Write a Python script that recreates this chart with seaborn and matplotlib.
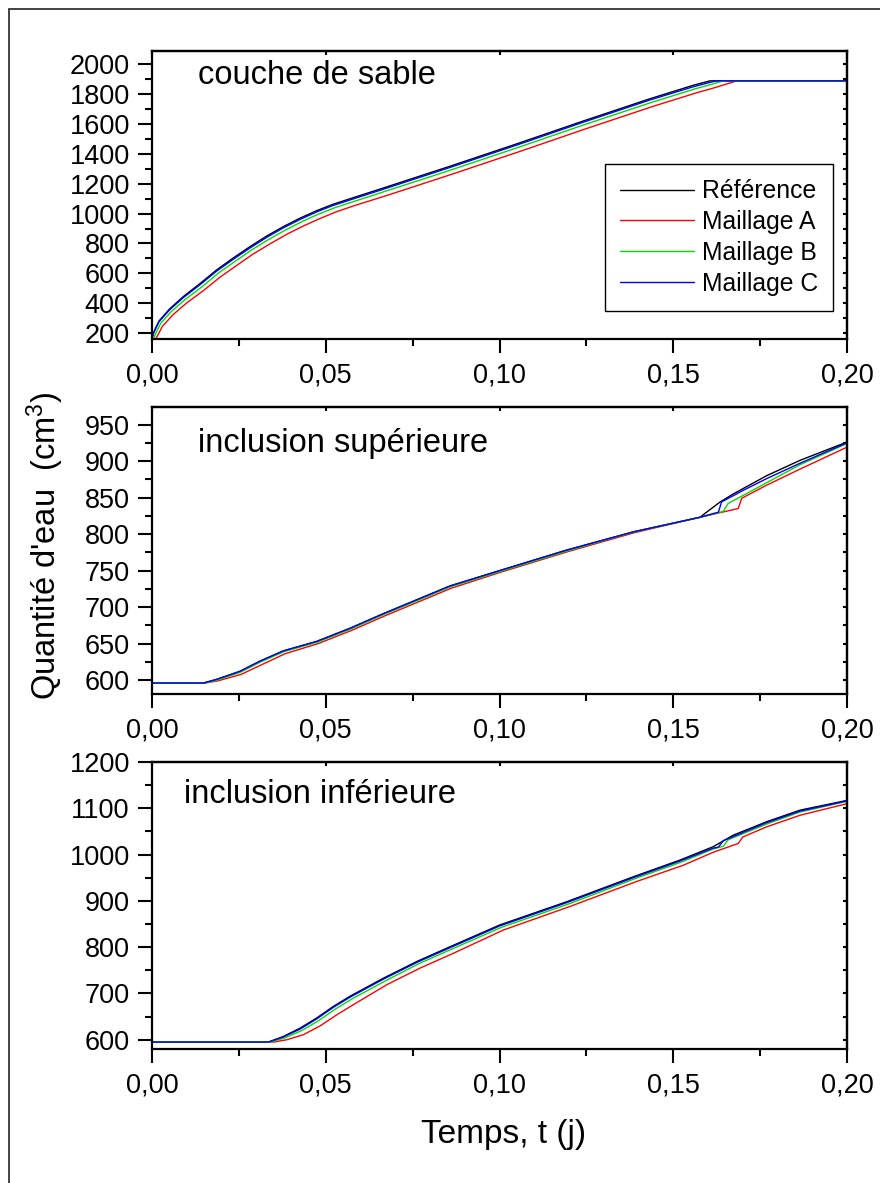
import numpy as np
import pandas as pd
import matplotlib
matplotlib.use("Agg")
import matplotlib.pyplot as plt
import seaborn as sns
from matplotlib.lines import Line2D
from matplotlib.patches import Rectangle
from matplotlib.ticker import MultipleLocator, FuncFormatter

# ---------------------------------------------------------------- data
series_names = ["Référence", "Maillage A", "Maillage B", "Maillage C"]
series_colors = ["#000000", "#ff0000", "#00dd00", "#0000ff"]
panel_titles = ["couche de sable", "inclusion supérieure", "inclusion inférieure"]
x_label = "Temps, t (j)"
y_label = "Quantité d'eau  (cm$^{\\rm 3}$)"

# couche de sable
t_sable_ref = [0.0, 0.0005, 0.002, 0.005, 0.009, 0.014, 0.0186, 0.0235, 0.0282, 0.033, 0.0378, 0.0426,
               0.0474, 0.052, 0.057, 0.0666, 0.0762, 0.0858, 0.105, 0.124, 0.1433, 0.156, 0.1606, 0.200]
v_sable_ref = [165, 205, 280, 360, 444, 535, 623, 705, 779, 850, 913, 970,
               1020, 1062, 1100, 1172, 1245, 1318, 1468, 1620, 1770, 1862, 1890, 1890]
t_sable_a = [0.001, 0.0015, 0.003, 0.006, 0.010, 0.015, 0.0195, 0.0245, 0.029, 0.034, 0.0388, 0.0436,
             0.0484, 0.053, 0.058, 0.0676, 0.0772, 0.0868, 0.106, 0.125, 0.1443, 0.157, 0.1616, 0.1683, 0.200]
v_sable_a = [160, 178, 245, 322, 402, 488, 573, 655, 728, 798, 862, 918,
             968, 1012, 1052, 1122, 1195, 1268, 1418, 1570, 1720, 1812, 1842, 1890, 1890]
t_sable_b = [0.0005, 0.001, 0.0025, 0.0055, 0.0095, 0.0145, 0.019, 0.024, 0.0286, 0.0335, 0.0383, 0.0431,
             0.0479, 0.0525, 0.0575, 0.0671, 0.0767, 0.0863, 0.1055, 0.1245, 0.1438, 0.1565, 0.1611, 0.1644, 0.200]
v_sable_b = [165, 195, 265, 343, 424, 512, 600, 682, 756, 826, 889, 946,
             997, 1039, 1077, 1150, 1222, 1295, 1445, 1597, 1746, 1838, 1867, 1890, 1890]
t_sable_c = [0.0, 0.0005, 0.002, 0.005, 0.009, 0.014, 0.0186, 0.0235, 0.0282, 0.033, 0.0378, 0.0426,
             0.0474, 0.052, 0.057, 0.0666, 0.0762, 0.0858, 0.105, 0.124, 0.1433, 0.156, 0.1606, 0.1625, 0.200]
v_sable_c = [165, 203, 275, 354, 437, 527, 615, 696, 770, 841, 905, 961,
             1012, 1054, 1092, 1164, 1237, 1310, 1460, 1612, 1762, 1852, 1880, 1890, 1890]

# inclusion supérieure
t_sup_ref = [0.0, 0.0148, 0.0186, 0.0253, 0.0311, 0.0378, 0.0474, 0.057, 0.0666, 0.0762, 0.0858, 0.1001,
             0.1193, 0.1385, 0.1577, 0.1596, 0.1635, 0.1673, 0.1769, 0.1865, 0.200]
v_sup_ref = [596, 596, 601, 612, 626, 640, 653, 671, 691, 710, 729, 750,
             778, 803, 823, 830, 844, 855, 880, 901, 926]
t_sup_a = [0.0, 0.0152, 0.019, 0.0257, 0.0315, 0.0382, 0.0478, 0.0574, 0.067, 0.0766, 0.0862, 0.1005,
           0.1197, 0.1389, 0.1577, 0.1687, 0.1697, 0.1769, 0.1865, 0.200]
v_sup_a = [596, 596, 599, 608, 621, 636, 650, 668, 688, 707, 726, 748,
           776, 802, 823, 835, 849, 867, 889, 919]
t_sup_b = [0.0, 0.015, 0.0188, 0.0255, 0.0313, 0.038, 0.0476, 0.0572, 0.0668, 0.0764, 0.086, 0.1003,
           0.1195, 0.1387, 0.1577, 0.1644, 0.1658, 0.1721, 0.1865, 0.200]
v_sup_b = [596, 596, 600, 611, 625, 639, 652, 670, 690, 709, 728, 749,
           777, 803, 823, 831, 842, 858, 895, 924]
t_sup_c = [0.0, 0.0148, 0.0186, 0.0253, 0.0311, 0.0378, 0.0474, 0.057, 0.0666, 0.0762, 0.0858, 0.1001,
           0.1193, 0.1385, 0.1577, 0.163, 0.1639, 0.1702, 0.1769, 0.1865, 0.200]
v_sup_c = [596, 596, 601, 612, 626, 640, 653, 671, 691, 710, 729, 750,
           778, 803, 823, 830, 844, 860, 876, 897, 925]

# inclusion inférieure
t_inf_ref = [0.0, 0.0335, 0.0378, 0.0426, 0.0474, 0.0522, 0.057, 0.0666, 0.0762, 0.0858, 0.1001,
             0.1193, 0.1385, 0.1519, 0.1615, 0.1673, 0.1769, 0.1865, 0.200]
v_inf_ref = [595, 595, 607, 625, 647, 672, 694, 733, 769, 801, 848,
             898, 952, 988, 1017, 1042, 1071, 1096, 1117]
t_inf_a = [0.0, 0.035, 0.0388, 0.0436, 0.0484, 0.0532, 0.058, 0.0676, 0.0772, 0.0868, 0.1011,
           0.1203, 0.1395, 0.1529, 0.1615, 0.1687, 0.170, 0.1769, 0.1865, 0.200]
v_inf_a = [595, 595, 600, 611, 630, 654, 676, 719, 755, 787, 837,
           888, 942, 977, 1005, 1024, 1038, 1060, 1085, 1110]
t_inf_b = [0.0, 0.034, 0.0383, 0.0431, 0.0479, 0.0527, 0.0575, 0.0671, 0.0767, 0.0863, 0.1006,
           0.1198, 0.139, 0.1524, 0.1615, 0.1644, 0.1658, 0.1769, 0.1865, 0.200]
v_inf_b = [595, 595, 604, 620, 641, 666, 688, 727, 764, 796, 843,
           893, 948, 984, 1012, 1018, 1032, 1066, 1092, 1115]
t_inf_c = [0.0, 0.0335, 0.0378, 0.0426, 0.0474, 0.0522, 0.057, 0.0666, 0.0762, 0.0858, 0.1001,
           0.1193, 0.1385, 0.1519, 0.1615, 0.163, 0.1644, 0.1769, 0.1865, 0.200]
v_inf_c = [595, 595, 606, 623, 645, 670, 692, 731, 767, 799, 846,
           896, 950, 986, 1014, 1016, 1030, 1069, 1094, 1116]

panels = [
    [(t_sable_ref, v_sable_ref), (t_sable_a, v_sable_a), (t_sable_b, v_sable_b), (t_sable_c, v_sable_c)],
    [(t_sup_ref, v_sup_ref), (t_sup_a, v_sup_a), (t_sup_b, v_sup_b), (t_sup_c, v_sup_c)],
    [(t_inf_ref, v_inf_ref), (t_inf_a, v_inf_a), (t_inf_b, v_inf_b), (t_inf_c, v_inf_c)],
]
y_limits = [(160, 2090), (581, 974), (580, 1200)]
y_major = [200, 50, 100]
y_minor = [100, 25, 50]
title_pos = [(0.066, 0.885), (0.066, 0.844), (0.046, 0.858)]

# ---------------------------------------------------------------- style
sns.set_style("ticks")
plt.rcParams["font.family"] = ["Liberation Sans", "DejaVu Sans"]
plt.rcParams["mathtext.fontset"] = "custom"
plt.rcParams["mathtext.rm"] = "Liberation Sans"
plt.rcParams["mathtext.it"] = "Liberation Sans"
plt.rcParams["axes.linewidth"] = 1.6
for key in ["text.color", "axes.labelcolor", "xtick.color", "ytick.color", "axes.edgecolor"]:
    plt.rcParams[key] = "black"

W, H = 880, 1183
fig = plt.figure(figsize=(W / 100, H / 100), dpi=100)
fig.patch.set_facecolor("white")

# page frame (left and top edges visible)
fig.add_artist(Rectangle((9 / W, -0.05), 1.2, 1 - 9 / H + 0.05, transform=fig.transFigure,
                         fill=False, edgecolor="#222222", lw=1.2))

axes_px = [(51, 339), (407, 694), (762, 1049)]
left_px, right_px = 152, 847
comma_fmt = FuncFormatter(lambda x, pos: f"{x:.2f}".replace(".", ","))

for i, (top, bot) in enumerate(axes_px):
    ax = fig.add_axes([left_px / W, 1 - bot / H, (right_px - left_px) / W, (bot - top) / H])
    rows = []
    for name, (t, v) in zip(series_names, panels[i]):
        rows.append(pd.DataFrame({"t": t, "v": v, "serie": name}))
    df = pd.concat(rows, ignore_index=True)
    sns.lineplot(data=df, x="t", y="v", hue="serie", hue_order=series_names,
                 palette=dict(zip(series_names, series_colors)), estimator=None, sort=False,
                 lw=1.0, legend=False, ax=ax)
    ax.set_xlim(0, 0.2)
    ax.set_ylim(*y_limits[i])
    ax.set_xlabel("")
    ax.set_ylabel("")
    ax.xaxis.set_major_locator(MultipleLocator(0.05))
    ax.xaxis.set_minor_locator(MultipleLocator(0.025))
    ax.xaxis.set_major_formatter(comma_fmt)
    ax.yaxis.set_major_locator(MultipleLocator(y_major[i]))
    ax.yaxis.set_minor_locator(MultipleLocator(y_minor[i]))
    ax.tick_params(which="major", direction="out", length=10, width=1.5, labelsize=19.5, pad=6)
    ax.tick_params(axis="x", which="major", pad=7)
    ax.tick_params(which="minor", direction="out", length=5, width=1.5)
    for s in ax.spines.values():
        s.set_visible(True)
        s.set_linewidth(1.6)
        s.set_edgecolor("black")
    # inward ticks on the top and right edges
    sx = ax.secondary_xaxis("top")
    sx.xaxis.set_major_locator(MultipleLocator(0.05))
    sx.xaxis.set_minor_locator(MultipleLocator(0.025))
    sx.tick_params(which="major", direction="in", length=3, width=1.5, labeltop=False)
    sx.tick_params(which="minor", direction="in", length=0)
    sy = ax.secondary_yaxis("right")
    sy.yaxis.set_major_locator(MultipleLocator(y_major[i]))
    sy.yaxis.set_minor_locator(MultipleLocator(y_minor[i]))
    sy.tick_params(which="both", direction="in", length=3, width=1.5, labelright=False)
    ax.text(title_pos[i][0], title_pos[i][1], panel_titles[i], transform=ax.transAxes,
            fontsize=23.5, ha="left", va="baseline")
    if i == 0:
        handles = [Line2D([], [], color=c, lw=1.0) for c in series_colors]
        leg = ax.legend(handles, series_names, loc="upper right", bbox_to_anchor=(0.98, 0.608),
                        fontsize=17.8, frameon=True, fancybox=False, framealpha=1, edgecolor="black",
                        handlelength=3.0, handletextpad=0.3, labelspacing=0.28, borderpad=0.62,
                        borderaxespad=0)
        leg.get_frame().set_linewidth(1.0)

fig.text(45 / W, 1 - 546 / H, y_label, rotation=90, ha="center", va="center", fontsize=23.5)
fig.text(504 / W, 1 - 1134 / H, x_label, ha="center", va="center", fontsize=24)

fig.savefig("out.png", dpi=100, facecolor="white")
